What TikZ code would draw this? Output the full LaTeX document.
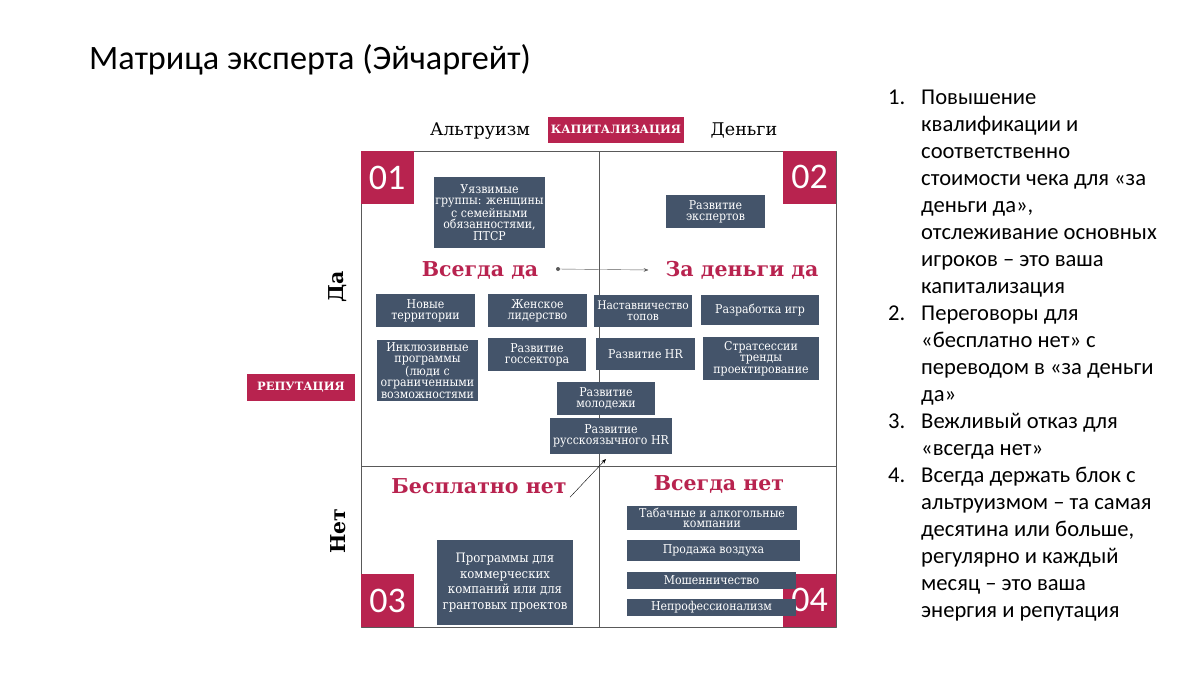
\documentclass[tikz,border=0pt]{standalone}
\usepackage{fontspec}
\setmainfont{DejaVu Serif}
\newfontfamily\calibri{Carlito}
\newfontfamily\cellfont{DejaVu Serif Condensed}
\usetikzlibrary{arrows.meta}
\definecolor{crimson}{HTML}{B8234F}
\definecolor{slate}{HTML}{44546A}
\definecolor{frame}{HTML}{595959}
\tikzset{
  every picture/.style={line join=round, >=Stealth},
  cell/.style={fill=slate, text=white, inner sep=1pt, align=center, font=\cellfont\fontsize{12.2}{11.3}\selectfont},
  num/.style={fill=crimson, text=white, minimum size=53, inner sep=0pt, font=\calibri\fontsize{36}{36}\selectfont},
  tag/.style={fill=crimson, text=white, inner sep=0pt, font=\bfseries\fontsize{11.5}{12}\selectfont},
  verdict/.style={text=crimson, font=\bfseries\fontsize{20.5}{20.5}\selectfont},
  axis/.style={font=\fontsize{17.5}{17.5}\selectfont},
  side/.style={font=\bfseries\fontsize{20.5}{20.5}\selectfont, rotate=90},
  point/.style={font=\calibri\fontsize{22.6}{27}\selectfont, anchor=north west, align=left, inner sep=0pt},
}

\begin{document}
\begin{tikzpicture}[x=1pt,y=-1pt]
\useasboundingbox (0,0) rectangle (1200,675);
% title
\node[anchor=west, inner sep=0pt, font=\calibri\fontsize{34.2}{34.2}\selectfont] (title) at (89,60) {Матрица эксперта (Эйчаргейт)};

% matrix frame
\draw[frame, thin] (361,151) rectangle (836,627);
\draw[frame, thin] (599,151) -- (599,627);
\draw[frame, thin] (361,466) -- (836,466);

% axis labels
\node[axis] (altr) at (480,131) {Альтруизм};
\node[tag, minimum width=136, minimum height=26] (cap) at (616,130) {КАПИТАЛИЗАЦИЯ};
\node[axis] (money) at (744,130) {Деньги};
\node[side] (yes) at (338,287) {Да};
\node[side] (no) at (338,531) {Нет};
\node[tag, minimum width=108, minimum height=27] (rep) at (301,387.5) {РЕПУТАЦИЯ};

% quadrant numbers
\node[num] (q1) at (387,177.5) {01};
\node[num] (q2) at (809.5,177) {02};
\node[num] (q3) at (387.5,600.5) {03};
\node[num] (q4) at (809.5,600) {04};

% verdicts
\node[verdict] (always) at (480,270) {Всегда да};
\node[verdict, fill=white, inner xsep=17pt, minimum height=44] (paid) at (742,270) {За деньги да};
\node[verdict] (free) at (479,486) {Бесплатно нет};
\node[verdict] (never) at (719,484) {Всегда нет};

% quadrant 01 / 02
\node[cell, minimum width=111, minimum height=71] (vuln) at (489.5,212.5) {Уязвимые\\группы: женщины\\с семейными\\обязанностями,\\ПТСР};
\node[cell, minimum width=99, minimum height=33] (experts) at (715.5,211.5) {Развитие\\экспертов};
\node[cell, minimum width=99, minimum height=33] (terr) at (425.5,310.5) {Новые\\территории};
\node[cell, minimum width=99, minimum height=33] (women) at (537.5,310.5) {Женское\\лидерство};
\node[cell, minimum width=98, minimum height=32, font=\cellfont\fontsize{11.8}{11.3}\selectfont] (mentor) at (643,311) {Наставничество\\топов};
\node[cell, minimum width=118, minimum height=30] (games) at (760,310) {Разработка игр};
\node[cell, minimum width=101, minimum height=61] (incl) at (427.5,370.5) {Инклюзивные\\программы\\(люди с\\ограниченными\\возможностями};
\node[cell, minimum width=98, minimum height=33] (gov) at (537,354.5) {Развитие\\госсектора};
\node[cell, minimum width=99, minimum height=32] (hr) at (645.5,354) {Развитие HR};
\node[cell, minimum width=116, minimum height=43] (strat) at (761,358.5) {Стратсессии\\тренды\\проектирование};
\node[cell, minimum width=98, minimum height=33] (youth) at (606,398.5) {Развитие\\молодежи};
\node[cell, minimum width=122, minimum height=36] (ruhr) at (611,436) {Развитие\\русскоязычного HR};

% quadrant 03 / 04
\node[cell, minimum width=136, minimum height=85, font=\cellfont\fontsize{13}{15.5}\selectfont] (comm) at (505,582.5) {Программы для\\коммерческих\\компаний или для\\грантовых проектов};
\node[cell, minimum width=170, minimum height=24, inner ysep=0pt, font=\cellfont\fontsize{12.2}{10.3}\selectfont] (tobacco) at (712,518) {Табачные и алкогольные\\компании};
\node[cell, minimum width=173, minimum height=21] (air) at (713.5,550.5) {Продажа воздуха};
\node[cell, minimum width=169, minimum height=17, inner ysep=0pt] (fraud) at (711.5,580.5) {Мошенничество};
\node[cell, minimum width=169, minimum height=17, inner ysep=0pt] (unprof) at (711.5,607.5) {Непрофессионализм};

% arrows
\coordinate (dot) at (558,269);
\fill[frame] (dot) circle (2);
\draw[frame, ->] (dot) -- (paid.west);
\coordinate (tip) at (606,459);
\draw[->] (free.south east) -- (tip);

% list
\node[point] (n1) at (888,88) {\vphantom{(}1.};
\node[point] (t1) at (921,88) {\vphantom{(}Повышение\\квалификации и\\соответственно\\стоимости чека для «за\\деньги да»,\\отслеживание основных\\игроков – это ваша\\капитализация};
\node[point] (n2) at (888,304) {\vphantom{(}2.};
\node[point] (t2) at (921,304) {\vphantom{(}Переговоры для\\«бесплатно нет» с\\переводом в «за деньги\\да»};
\node[point] (n3) at (888,412) {\vphantom{(}3.};
\node[point] (t3) at (921,412) {\vphantom{(}Вежливый отказ для\\«всегда нет»};
\node[point] (n4) at (888,466) {\vphantom{(}4.};
\node[point] (t4) at (921,466) {\vphantom{(}Всегда держать блок с\\альтруизмом – та самая\\десятина или больше,\\регулярно и каждый\\месяц – это ваша\\энергия и репутация};
\end{tikzpicture}
\end{document}
